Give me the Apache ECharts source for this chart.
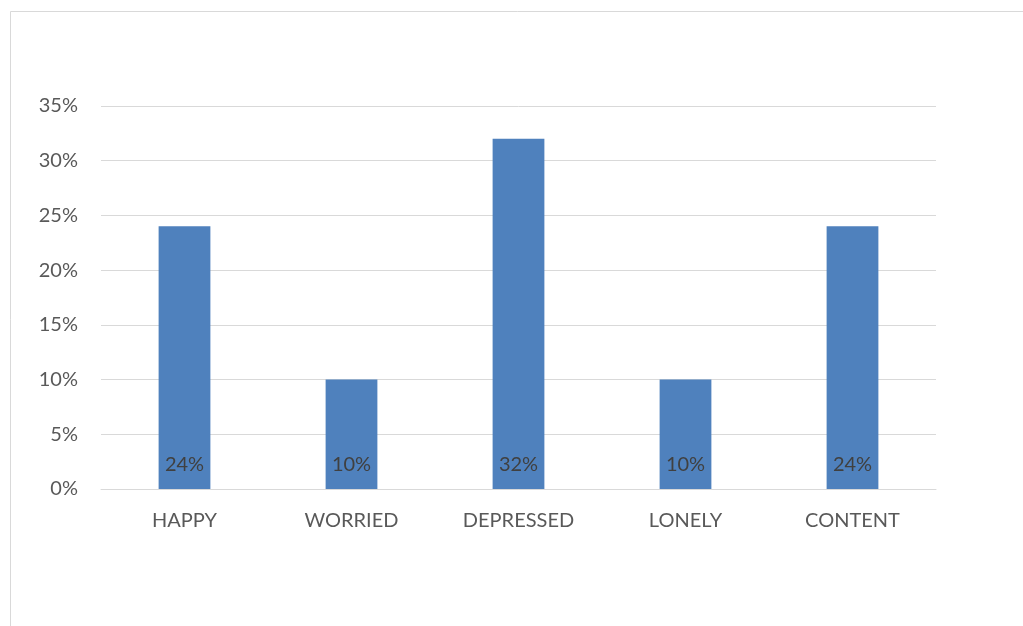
<!DOCTYPE html>
<html>
<head>
<meta charset="utf-8">
<script src="https://cdn.jsdelivr.net/npm/echarts@6/dist/echarts.min.js"></script>
<style>
  html, body { margin: 0; padding: 0; background: #fff; }
  #main { width: 1023px; height: 626px; }
</style>
</head>
<body>
<div id="main"></div>
<script>
const categories = ['HAPPY', 'WORRIED', 'DEPRESSED', 'LONELY', 'CONTENT'];
const values = [24, 10, 32, 10, 24];
const yTicks = [0, 5, 10, 15, 20, 25, 30, 35];

const chart = echarts.init(document.getElementById('main'));

const option = {
  backgroundColor: '#fff',
  animation: false,
  textStyle: { fontFamily: 'Lato, "Open Sans", sans-serif' },
  graphic: [
    {
      type: 'rect',
      shape: { x: 10.5, y: 11.5, width: 1100, height: 700 },
      style: { fill: 'none', stroke: '#d9d9d9', lineWidth: 1 },
      silent: true
    }
  ],
  grid: { left: 101, right: 87, top: 106, bottom: 137 },
  xAxis: {
    type: 'category',
    data: categories,
    axisLine: { lineStyle: { color: '#d9d9d9' } },
    axisTick: { show: false },
    axisLabel: { color: '#595959', fontSize: 20, margin: 22 }
  },
  yAxis: {
    type: 'value',
    min: yTicks[0],
    max: yTicks[yTicks.length - 1],
    interval: 5,
    axisLine: { show: false },
    axisTick: { show: false },
    splitLine: { lineStyle: { color: '#d9d9d9' } },
    axisLabel: { color: '#595959', fontSize: 20, margin: 23, formatter: '{value}%' }
  },
  series: [
    {
      type: 'bar',
      data: values,
      barWidth: '31%',
      itemStyle: { color: '#4f81bd' },
      label: {
        show: true,
        position: 'insideBottom',
        distance: 14,
        color: '#404040',
        fontSize: 20,
        formatter: '{c}%'
      }
    }
  ]
};

chart.setOption(option);
</script>
</body>
</html>
